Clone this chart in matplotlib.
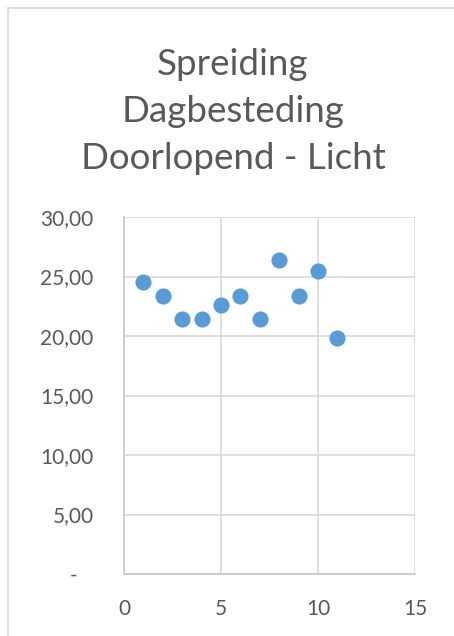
import matplotlib.pyplot as plt
from matplotlib.patches import Rectangle
from matplotlib.ticker import FuncFormatter

# Data
title_lines = ['Spreiding', 'Dagbesteding', 'Doorlopend - Licht']
x_vals = [1, 2, 3, 4, 5, 6, 7, 8, 9, 10, 11]
y_vals = [24.5, 23.4, 21.4, 21.4, 22.6, 23.4, 21.4, 26.4, 23.4, 25.5, 19.8]
x_ticks = [0, 5, 10, 15]
y_ticks = [0, 5, 10, 15, 20, 25, 30]

W, H = 454, 636
fig = plt.figure(figsize=(W / 100, H / 100), dpi=100)
fig.patch.set_facecolor('white')

text_col = '#595959'
grid_col = '#D9D9D9'
font = ['Lato', 'DejaVu Sans']

# chart border (Excel chart area, cut off at right/bottom)
fig.patches.append(Rectangle((8 / W, -0.1), 1.2, 1 - 8 / H + 0.1,
                             transform=fig.transFigure, fill=False,
                             edgecolor=grid_col, linewidth=1.2))

# title, one line at a time (baselines in px from top)
baselines = [75, 122, 169]
for line, b in zip(title_lines, baselines):
    fig.text(233 / W, 1 - b / H, line, ha='center', va='baseline',
             fontsize=26.5, color=text_col, family=font)

ax = fig.add_axes([124 / W, 62 / H, 291 / W, 357 / H])
ax.scatter(x_vals, y_vals, s=135, color='#5B9BD5', zorder=3, linewidths=0)

ax.set_xlim(0, 15)
ax.set_ylim(0, 30)
ax.set_xticks(x_ticks)
ax.set_yticks(y_ticks)


def yfmt(v, pos):
    if v == 0:
        return '-   '
    return f'{v:.2f}'.replace('.', ',')


ax.yaxis.set_major_formatter(FuncFormatter(yfmt))
ax.grid(True, color=grid_col, linewidth=1.2, zorder=0)
ax.set_axisbelow(True)
for side in ['left', 'bottom']:
    ax.spines[side].set_color('#C8C8C8')
    ax.spines[side].set_linewidth(1.2)
for side in ['top', 'right']:
    ax.spines[side].set_visible(False)

ax.tick_params(axis='both', length=0, colors=text_col, labelsize=15)
ax.tick_params(axis='y', pad=22)
ax.tick_params(axis='x', pad=18)
for lbl in ax.get_xticklabels() + ax.get_yticklabels():
    lbl.set_family(font)

fig.savefig('out.png', dpi=100, facecolor='white')
